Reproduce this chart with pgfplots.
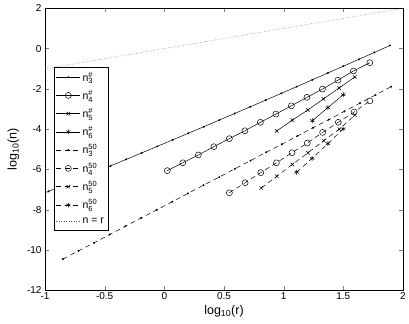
\documentclass[border=0pt]{standalone}
\usepackage{fontspec}
\setmainfont{Liberation Sans}
\usepackage{pgfplots}
\pgfplotsset{compat=1.18}
\newcommand{\nn}[2]{$\mbox{n}^{\mbox{\fontsize{7.5}{8}\selectfont #1}}_{\mbox{\fontsize{7.5}{8}\selectfont #2}}$}
\begin{document}
\begin{tikzpicture}
\begin{axis}[name=ax, scale only axis, width=358pt, height=282pt,
  xmin=-1, xmax=2, ymin=-12, ymax=2,
  xtick={-1,-0.5,0,0.5,1,1.5,2}, ytick={-12,-10,-8,-6,-4,-2,0,2},
  tick align=inside, tick pos=both, major tick length=4pt,
  /pgf/number format/assume math mode=true,
  ticklabel style={font=\fontsize{10}{11}\selectfont},
  xticklabel style={yshift=1pt},
  label style={font=\fontsize{12.5}{13}\selectfont},
  xlabel={log\textsubscript{10}(r)}, ylabel={log\textsubscript{10}(n)},
  xlabel style={yshift=1pt}, ylabel style={yshift=1pt},
  every axis plot/.append style={black, line width=0.5pt},
  legend style={at={(axis cs:-0.925,-0.9)}, anchor=north west, draw=black,
    font=\fontsize{10.5}{11}\selectfont, cells={anchor=west}, row sep=3.6pt, inner xsep=2pt, inner ysep=3pt},
  legend image code/.code={\draw[mark repeat=2,mark phase=2,#1] plot coordinates {(0cm,0cm)(0.42cm,0cm)(0.84cm,0cm)};},
]
% n3 #
\addplot[mark=*, mark size=0.7pt] coordinates {
(-1.10,-7.40)(-0.97,-7.087)(-0.84,-6.773)(-0.71,-6.457)(-0.58,-6.140)(-0.45,-5.821)(-0.32,-5.501)(-0.19,-5.179)(-0.06,-4.857)(0.07,-4.532)(0.20,-4.206)(0.33,-3.880)(0.46,-3.551)(0.59,-3.222)(0.72,-2.890)(0.85,-2.557)(0.98,-2.224)(1.11,-1.888)(1.24,-1.551)(1.37,-1.213)(1.50,-0.874)(1.63,-0.533)(1.76,-0.191)(1.89,0.153)};
\addlegendentry{\nn{\#}{3}}
% n4 #
\addplot[mark=o, mark size=3pt] coordinates {
(0.025,-6.06)(0.155,-5.67)(0.285,-5.28)(0.415,-4.87)(0.545,-4.47)(0.675,-4.08)(0.805,-3.66)(0.935,-3.25)(1.065,-2.84)(1.195,-2.42)(1.325,-2.01)(1.455,-1.57)(1.585,-1.11)(1.722,-0.70)};
\addlegendentry{\nn{\#}{4}}
% n5 #
\addplot[mark=x, mark size=2.5pt] coordinates {
(0.942,-4.09)(1.073,-3.55)(1.202,-3.05)(1.333,-2.50)(1.464,-1.96)(1.596,-1.41)};
\addlegendentry{\nn{\#}{5}}
% n6 #
\addplot[mark=asterisk, mark size=2.5pt] coordinates {
(1.241,-3.58)(1.370,-2.93)(1.500,-2.29)};
\addlegendentry{\nn{\#}{6}}
% n3 50
\addplot[dash pattern=on 5pt off 3.5pt, mark=*, mark size=0.7pt, mark options={solid}] coordinates {
(-0.85,-10.45)(-0.719,-10.04)(-0.588,-9.64)(-0.457,-9.23)(-0.326,-8.82)(-0.195,-8.41)(-0.064,-8.01)(0.067,-7.60)(0.198,-7.19)(0.329,-6.78)(0.46,-6.38)(0.591,-5.97)(0.722,-5.56)(0.853,-5.15)(0.984,-4.75)(1.115,-4.34)(1.246,-3.93)(1.377,-3.53)(1.508,-3.12)(1.639,-2.71)(1.77,-2.30)(1.901,-1.89)};
\addlegendentry{\nn{50}{3}}
% n4 50
\addplot[dash pattern=on 5pt off 3.5pt, mark=o, mark size=3pt, mark options={solid}] coordinates {
(0.545,-7.16)(0.677,-6.66)(0.808,-6.16)(0.939,-5.67)(1.070,-5.17)(1.198,-4.69)(1.327,-4.16)(1.458,-3.66)(1.590,-3.15)(1.722,-2.60)};
\addlegendentry{\nn{50}{4}}
% n5 50
\addplot[dash pattern=on 5pt off 3.5pt, mark=x, mark size=2.5pt, mark options={solid}] coordinates {
(0.813,-6.92)(0.942,-6.34)(1.073,-5.75)(1.204,-5.17)(1.336,-4.57)(1.466,-4.00)(1.597,-3.30)};
\addlegendentry{\nn{50}{5}}
% n6 50
\addplot[dash pattern=on 5pt off 3.5pt, mark=asterisk, mark size=2.5pt, mark options={solid}] coordinates {
(1.108,-6.14)(1.239,-5.45)(1.370,-4.72)(1.499,-3.99)};
\addlegendentry{\nn{50}{6}}
% n = r
\addplot[dotted, black!70] coordinates {(-1,-1)(2,2)};
\addlegendentry{n = r}
\end{axis}
\pgfresetboundingbox
\path ([shift={(-45pt,-33pt)}]ax.south west) rectangle ([shift={(6pt,8.3pt)}]ax.north east);
\end{tikzpicture}
\end{document}
